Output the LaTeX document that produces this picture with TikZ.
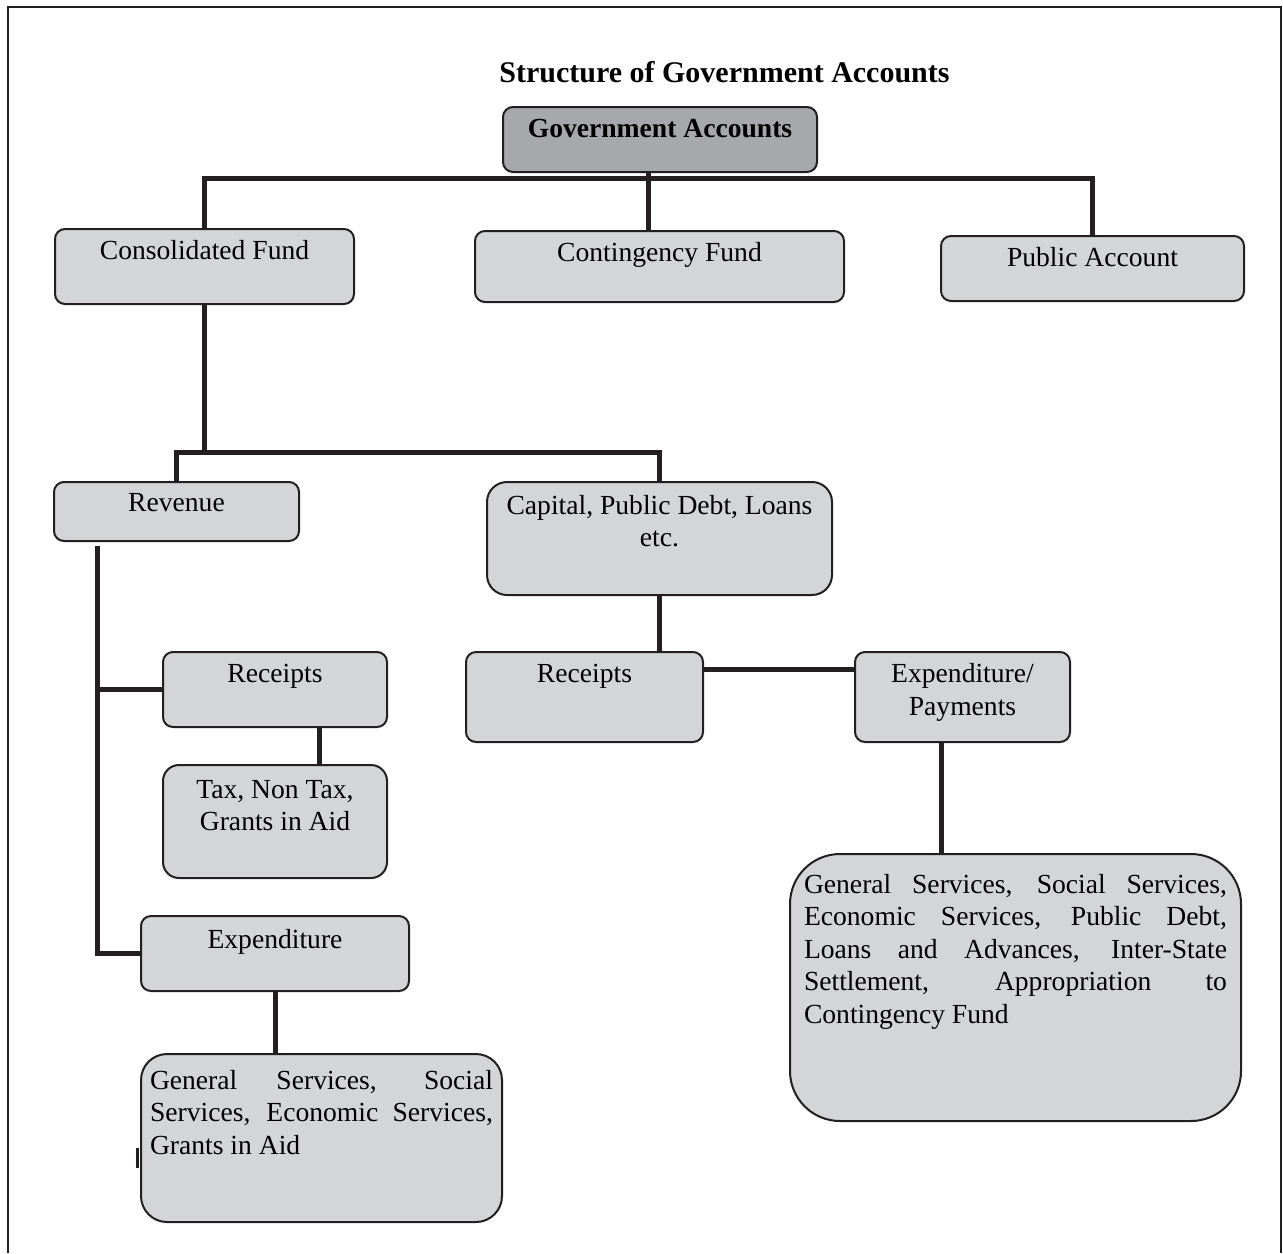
\documentclass[tikz,border=0pt]{standalone}
\usepackage{fontspec}
\setmainfont{Liberation Serif}
\usepackage{xcolor}
\usetikzlibrary{positioning}
\usetikzlibrary{calc}
\definecolor{boxgray}{HTML}{D4D5D7}
\definecolor{headgray}{HTML}{A7A8AB}
\definecolor{inkblack}{HTML}{231F20}
\newlength{\pxu}
\setlength{\pxu}{0.5pt}
\newcommand{\boxtxt}[4][4pt]{\parbox[t][#3\pxu][t]{#2\pxu}{\centering\vspace*{#1}\strut#4}}
\newcommand{\boxjust}[4][4pt]{\parbox[t][#3\pxu][t]{#2\pxu}{\hyphenpenalty=10000\exhyphenpenalty=10000\vspace*{#1}\strut#4}}
\tikzset{
	acct/.style={draw=inkblack, line width=1pt, fill=boxgray, rounded corners=5pt, inner sep=0pt, anchor=north west, minimum width=#1\pxu, font=\fontsize{13.8}{16.3}\selectfont},
	conn/.style={draw=inkblack, line width=2.5pt},
}

\begin{document}
\begin{tikzpicture}[x=0.5pt,y=-0.5pt]
					\useasboundingbox (0,0) rectangle (1283,1253);
					%frame
					\draw[inkblack, line width=0.9pt] (8,1253) -- (8,7) -- (1281,7) -- (1281,1253);
					\node[anchor=base, font=\fontsize{15}{18}\selectfont\bfseries] (title) at (724.5,82) {Structure of Government Accounts};
					%boxes
					\node[acct=314, fill=headgray] (gov) at (502,106) {\boxtxt{300}{65}{\bfseries Government Accounts}};
					\node[acct=299] (cons) at (54,228) {\boxtxt{287}{75}{Consolidated Fund}};
					\node[acct=369] (cont) at (474,230) {\boxtxt{355}{71}{Contingency Fund}};
					\node[acct=303] (pub) at (940,235) {\boxtxt[3.6pt]{290}{65}{Public Account}};
					\node[acct=245] (rev) at (53,481) {\boxtxt[3.1pt]{232}{59}{Revenue}};
					\node[acct=345, rounded corners=10pt] (cap) at (486,481) {\boxtxt[4.6pt]{330}{113}{Capital, Public Debt, Loans\\ etc.}};
					\node[acct=224] (rrec) at (162,651) {\boxtxt{210}{75}{Receipts}};
					\node[acct=224, rounded corners=8pt] (tax) at (162,764) {\boxtxt[5.1pt]{210}{113}{Tax, Non Tax,\\ Grants in Aid}};
					\node[acct=268] (rexp) at (140,915) {\boxtxt[4.6pt]{254}{75}{Expenditure}};
					\node[acct=361, rounded corners=13pt] (rgs) at (140,1053) {\boxjust[6.1pt]{343}{168}{General Services, Social\linebreak Services, Economic Services,\linebreak Grants in Aid}};
					\node[acct=237] (crec) at (465,651) {\boxtxt{223}{90}{Receipts}};
					\node[acct=215] (cpay) at (854,651) {\boxtxt{201}{90}{Expenditure/\\ Payments}};
					\node[acct=451, rounded corners=25pt] (big) at (789,853) {\boxjust[8.1pt]{423}{267}{General Services, Social Services,\linebreak Economic Services, Public Debt,\linebreak Loans and Advances, Inter-State\linebreak Settlement, Appropriation to\linebreak Contingency Fund}};
					%top level
					\coordinate (hub) at (648,178);
					\draw[conn] (cons.north) |- (hub) -| (pub.north);
					\draw[conn] (hub |- gov.south) -- (hub |- cont.north);
					%consolidated fund
					\coordinate (split) at (cons.south |- 0,452);
					\draw[conn] (cons.south) -- (split);
					\draw[conn] (rev.north) |- (split) -| (cap.north);
					%revenue
					\coordinate (revfoot) at (97,546);
					\draw[conn] (revfoot) |- (rexp.west);
					\draw[conn] (revfoot |- rrec.west) -- (rrec.west);
					\draw[conn] ([xshift=22pt]rrec.south) -- ([xshift=22pt]tax.north);
					\draw[conn] (rexp.south) -- (rexp.south |- rgs.north);
					\draw[inkblack, line width=1.5pt] ([xshift=-1.5pt,yshift=-5pt]rgs.west) -- ++(0,20);
					%capital
					\draw[conn] (cap.south) -- (cap.south |- crec.north);
					\draw[conn] ([yshift=14pt]crec.east) -- ([yshift=14pt]crec.east -| cpay.west);
					\draw[conn] ([xshift=-10.75pt]cpay.south) -- ([xshift=-10.75pt]cpay.south |- big.north);
				\end{tikzpicture}
\end{document}
